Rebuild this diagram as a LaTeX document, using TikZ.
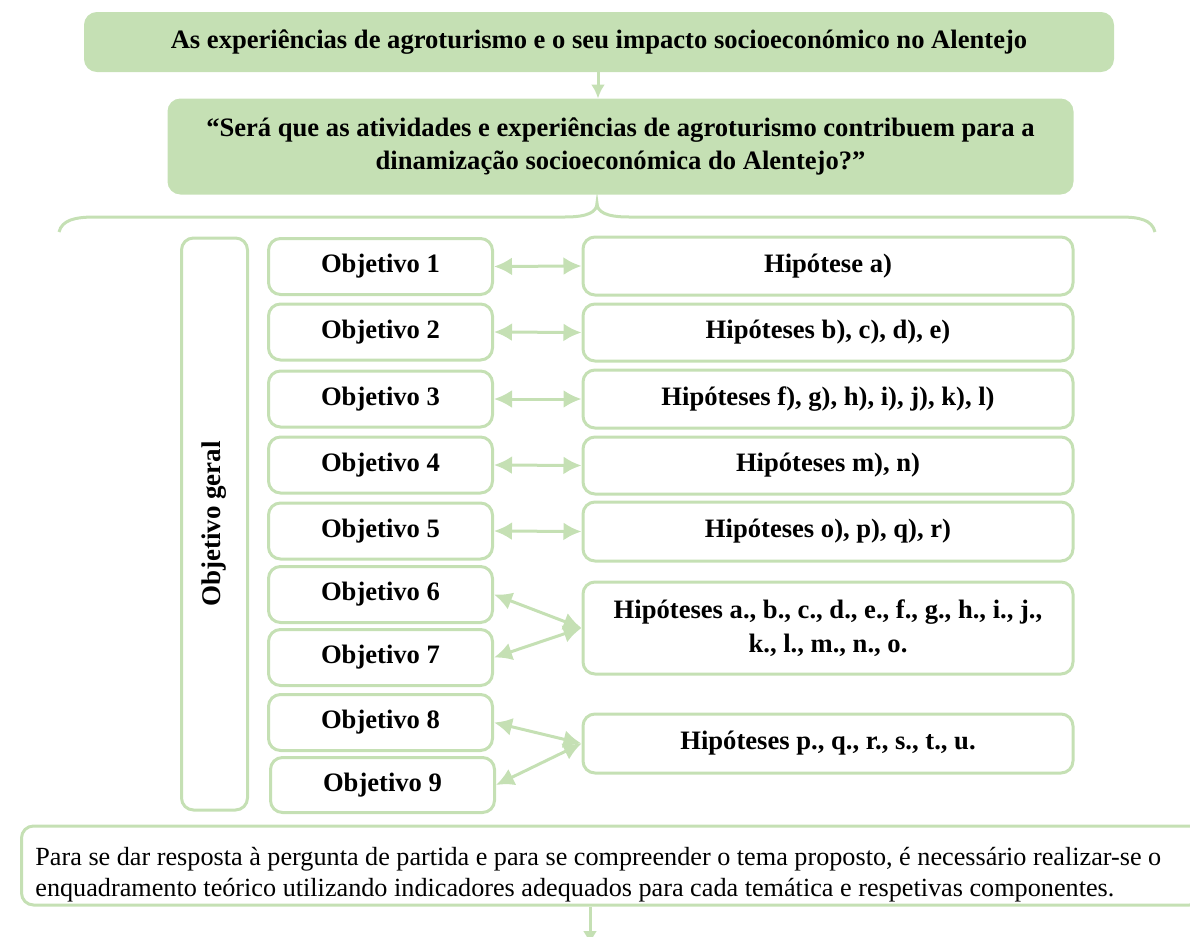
\documentclass[tikz,border=0pt]{standalone}
\usepackage{fontspec}
\setmainfont{Liberation Serif}
\usetikzlibrary{arrows.meta}
\definecolor{verde}{HTML}{C5E0B4}
\tikzset{
	topo/.style={draw=verde, fill=verde, rounded corners=6pt, line width=1pt, font=\bfseries\fontsize{13.3}{16.5}\selectfont, align=center},
	caixa/.style={draw=verde, fill=white, rounded corners=6pt, line width=1.5pt, font=\bfseries\fontsize{13.3}{17}\selectfont, align=center},
	liga/.style={verde, line width=1.5pt, {Latex[length=9pt,width=9pt]}-{Latex[length=9pt,width=9pt]}},
	seta/.style={verde, line width=1.5pt, -{Latex[length=7pt,width=7pt]}}
}
\begin{document}
\begin{tikzpicture}[x=0.5pt, y=-0.5pt]
	\useasboundingbox (0,0) rectangle (1190,937);
	% titulo e pergunta
	\node[topo, minimum width=514pt, minimum height=29pt] (tema) at (599,42) {As experiências de agroturismo e o seu impacto socioeconómico no Alentejo};
	\node[topo, minimum width=452pt, minimum height=47pt] (perg) at (620.5,146.5) {“Será que as atividades e experiências de agroturismo contribuem para a\\dinamização socioeconómica do Alentejo?”};
	\draw[seta] (tema.south -| 598,0) -- (perg.north -| 598,0);
	% chaveta
	\draw[verde, line width=1.5pt] (59,232) .. controls (62,220) and (75,217) .. (95,217) -- (565,217) .. controls (588,217) and (597,212) .. (597,203) .. controls (597,212) and (606,217) .. (629,217) -- (1120,217) .. controls (1140,217) and (1152,220) .. (1155,232);
	% objetivo geral
	\node[caixa, minimum width=33pt, minimum height=286pt] (geral) at (214.5,524) {};
	\node[rotate=90, font=\bfseries\fontsize{13.5}{17}\selectfont] (geraltxt) at (geral.center) {Objetivo geral};
	% objetivos
	\foreach \n/\y in {1/266.5, 2/332, 3/399, 4/465, 5/531, 6/594.5, 7/657.5, 8/722.5}
		\node[caixa, minimum width=112pt, minimum height=28pt] (obj\n) at (380.5,\y) {Objetivo \n};
	\node[caixa, minimum width=112pt, minimum height=27.5pt] (obj9) at (382.5,785) {Objetivo 9};
	% hipoteses
	\node[caixa, minimum width=245pt, minimum height=29pt] (hipA) at (828,266) {Hipótese a)};
	\node[caixa, minimum width=245pt, minimum height=28.5pt] (hipB) at (828,332.5) {Hipóteses b), c), d), e)};
	\node[caixa, minimum width=245pt, minimum height=29pt] (hipC) at (828,399) {Hipóteses f), g), h), i), j), k), l)};
	\node[caixa, minimum width=245pt, minimum height=28.5pt] (hipD) at (828,465.5) {Hipóteses m), n)};
	\node[caixa, minimum width=245pt, minimum height=29.5pt] (hipE) at (828,531.5) {Hipóteses o), p), q), r)};
	\node[caixa, minimum width=245pt, minimum height=46pt] (hipF) at (828,628) {Hipóteses a., b., c., d., e., f., g., h., i., j.,\\k., l., m., n., o.};
	\node[caixa, minimum width=245pt, minimum height=29.5pt] (hipG) at (828,743.5) {Hipóteses p., q., r., s., t., u.};
	% ligacoes
	\draw[liga] (obj1.east) -- (hipA.west);
	\draw[liga] (obj2.east) -- (hipB.west);
	\draw[liga] (obj3.east) -- (hipC.west);
	\draw[liga] (obj4.east) -- (hipD.west);
	\draw[liga] (obj5.east) -- (hipE.west);
	\draw[liga] (obj6.east) -- (hipF.west);
	\draw[liga] (obj7.east) -- (hipF.west);
	\draw[liga] (obj8.east) -- (hipG.west);
	\draw[liga] (obj9.east) -- (hipG.west);
	% enquadramento
	\node[caixa, anchor=west, minimum width=590pt, minimum height=39.5pt] (enq) at (20,865.5) {};
	\node[font=\fontsize{13.1}{15.5}\selectfont, align=left, anchor=west, inner sep=0pt] (enqtxt) at (35,875) {Para se dar resposta à pergunta de partida e para se compreender o tema proposto, é necessário realizar-se o\\enquadramento teórico utilizando indicadores adequados para cada temática e respetivas componentes.};
	\coordinate (fim) at (590,945);
	\draw[seta] (enq.south -| fim) -- (fim);
\end{tikzpicture}
\end{document}
